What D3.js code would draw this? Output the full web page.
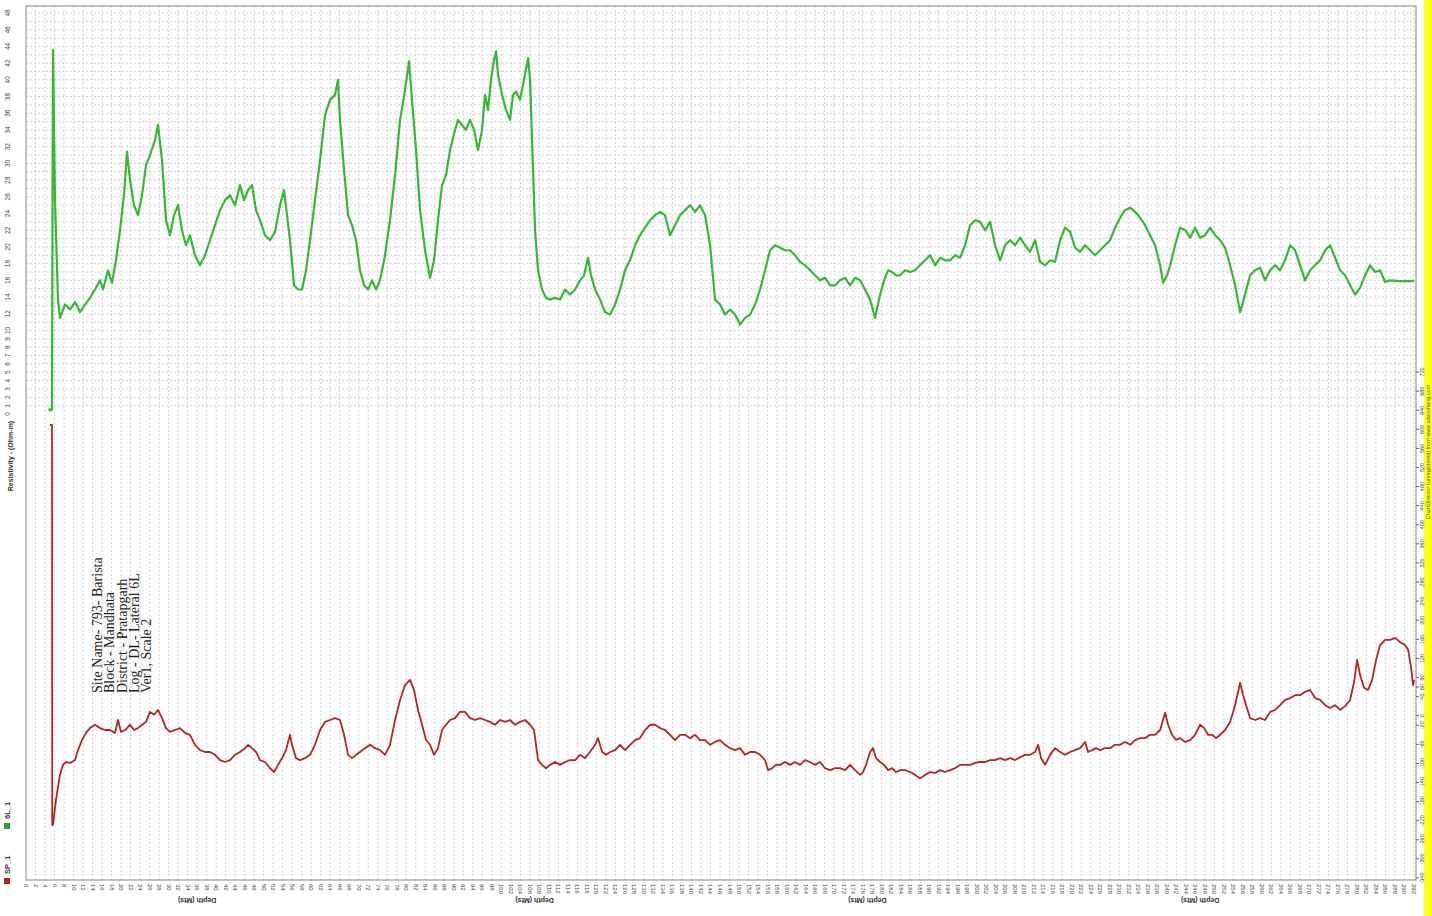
<!DOCTYPE html>
<html><head><meta charset="utf-8">
<script src="https://cdn.jsdelivr.net/npm/d3@7"></script>
<style>body{margin:0;background:#fff;} svg{display:block;}</style>
</head><body>
<svg id="c" width="1432" height="916"></svg>
<script>
// ---- data ----
const resTicks = [0,1,2,3,4,5,6,7,8,9,10,12,14,16,18,20,22,24,26,28,30,32,34,36,38,40,42,44,46,48];
const spTicks = [720,680,640,600,560,520,480,440,400,360,320,280,240,200,160,120,80,60,40,0,-20,-60,-100,-140,-180,-220,-260,-300,-340];
const depthTickStep = 2;
const depthMax = 292;

const greenDepth = [5.05,5.47,5.68,6.1,6.73,7.15,8.21,9.26,10.31,11.36,12.41,13.47,14.52,15.57,16.2,17.25,18.09,18.94,19.78,20.62,21.25,21.88,22.72,23.56,24.41,25.25,26.09,27.14,27.77,28.61,29.46,30.3,31.14,31.98,32.82,33.66,34.5,35.56,36.61,37.66,38.71,39.76,40.82,41.87,42.92,43.97,45.02,45.87,46.71,47.55,48.39,49.23,50.28,51.34,52.39,53.44,54.28,54.91,55.54,56.39,57.23,58.07,58.91,59.75,60.8,61.86,62.91,63.96,65.01,65.64,66.06,66.91,67.75,68.59,69.43,70.27,71.11,71.95,72.8,73.64,74.48,75.53,76.58,77.64,78.69,79.74,80.58,81.21,82.05,82.9,83.95,85.0,85.84,86.68,87.52,88.37,89.21,90.26,90.89,91.73,92.57,93.41,94.26,95.1,95.94,96.57,97.2,97.83,98.46,98.89,99.31,100.15,100.99,101.83,102.46,103.09,103.93,104.78,105.62,106.04,106.46,107.09,107.72,108.56,109.4,110.25,111.3,112.35,113.4,114.45,115.51,116.56,117.4,118.24,118.87,119.71,120.77,121.82,122.87,123.92,124.97,126.03,127.08,128.13,129.18,130.23,131.29,132.34,133.39,134.44,135.49,136.55,137.6,138.65,139.7,140.75,141.81,142.86,143.91,144.96,146.01,147.07,148.12,149.17,150.22,151.27,152.33,153.38,154.43,155.48,156.53,157.58,158.64,159.69,160.74,161.79,162.84,163.9,164.95,166.0,167.05,168.1,169.16,170.21,171.26,172.31,173.36,174.42,175.47,176.52,177.57,178.62,179.68,180.52,181.36,182.2,183.04,183.88,184.94,185.99,187.04,188.09,189.14,190.2,191.25,192.3,193.35,194.4,195.46,196.51,197.56,198.61,199.66,200.72,201.77,202.82,203.87,204.92,205.97,207.03,208.08,209.13,210.18,211.23,212.29,213.34,214.39,215.44,216.49,217.55,218.6,219.65,220.7,221.75,222.81,223.86,224.91,225.96,227.01,228.07,229.12,230.17,231.22,232.27,233.33,234.38,235.43,236.48,237.53,238.59,239.22,240.06,240.69,241.74,242.79,243.85,244.9,245.95,247.0,248.05,249.11,250.16,251.21,252.26,253.31,254.37,255.42,256.47,257.52,258.57,259.63,260.68,261.73,262.78,263.83,264.88,265.94,266.99,268.04,269.09,270.14,271.2,272.25,273.3,274.35,275.4,276.46,277.51,278.56,279.61,280.66,281.72,282.77,283.82,284.87,285.92,286.98,289.08,292.0];
const greenRes = [0.5,0.5,43.6,25.6,13.7,11.5,13.1,12.5,13.4,12.2,13.1,13.9,14.9,16.0,14.9,17.2,15.7,18.4,22.0,26.2,31.4,28.0,25.0,23.8,26.2,29.8,31.0,32.8,34.6,30.4,23.2,21.4,23.8,25.0,22.0,20.2,21.4,19.0,17.8,19.0,20.8,22.6,24.4,25.6,26.2,25.0,27.4,25.6,26.8,27.4,24.4,23.2,21.4,20.8,21.8,25.0,26.8,23.8,20.8,15.4,14.9,14.9,17.2,20.8,25.6,30.4,35.8,37.6,38.2,40.0,35.2,29.2,23.8,22.6,20.8,17.2,15.4,14.9,16.0,14.9,16.0,19.0,23.2,28.6,35.2,38.8,42.2,37.6,31.6,24.4,19.6,16.3,18.4,23.2,27.4,28.6,31.6,34.0,35.2,34.6,34.0,35.2,34.0,31.6,34.0,38.2,36.4,40.0,42.4,43.4,40.6,38.2,36.4,35.2,38.2,38.6,37.6,40.0,42.6,40.0,32.8,22.0,17.2,14.9,13.9,13.7,13.9,13.7,14.9,14.3,14.9,16.0,16.6,18.7,16.6,14.9,13.7,12.2,11.9,13.1,14.9,17.2,18.4,20.2,21.4,22.3,23.2,23.8,24.2,23.8,21.4,22.6,23.8,24.4,25.0,24.2,25.0,23.8,20.2,13.7,13.1,11.9,12.5,11.9,10.7,11.5,11.9,13.1,14.9,17.2,19.6,20.2,19.9,19.6,19.6,19.0,18.2,17.8,17.2,16.6,16.0,16.3,15.4,15.4,16.0,16.3,15.4,16.3,16.0,14.9,13.7,11.5,14.3,16.0,17.2,17.0,16.6,16.6,17.2,17.0,17.2,17.8,18.4,19.0,17.8,18.7,18.4,18.4,19.0,18.7,20.2,22.6,23.2,23.0,22.0,23.0,20.2,18.4,20.2,20.8,20.2,21.1,20.2,19.4,20.8,18.2,17.8,18.4,18.2,20.8,22.3,21.8,19.9,19.4,20.2,19.6,19.0,19.6,20.2,20.8,22.3,23.5,24.4,24.7,24.2,23.5,22.6,21.4,20.2,17.8,15.7,16.6,17.8,20.2,22.3,22.0,21.1,22.3,21.1,21.4,22.3,21.4,20.8,19.9,17.8,15.4,12.2,14.3,16.6,17.2,17.5,16.0,17.2,17.8,17.2,18.4,20.2,19.6,17.8,16.0,17.2,17.8,18.4,19.6,20.2,18.7,17.2,16.6,15.4,14.3,15.1,16.6,17.8,17.0,17.2,15.8,16.0,15.9,15.9];

const redDepth = [5.05,5.47,5.52,5.68,6.31,7.15,7.78,8.42,9.26,10.31,10.94,11.78,12.62,13.47,14.52,15.57,16.62,17.67,18.72,19.36,19.99,20.83,21.88,22.72,23.56,24.41,25.25,26.09,26.93,27.77,28.61,29.46,30.3,31.35,32.4,33.45,34.5,35.56,36.61,37.66,38.71,39.76,40.82,41.87,42.92,43.97,45.02,46.08,46.71,47.55,48.39,49.23,50.28,51.34,52.18,53.02,53.86,54.7,55.54,55.96,56.81,57.65,58.7,59.75,60.8,61.86,62.91,63.96,65.01,66.06,66.91,67.75,68.59,69.43,70.27,71.32,72.38,73.43,74.48,75.53,76.58,77.64,78.69,79.74,80.79,81.63,82.47,83.32,84.16,85.0,85.84,86.68,87.52,88.37,89.21,90.26,91.31,92.36,93.41,94.47,95.52,96.57,97.62,98.67,99.73,100.78,101.83,102.88,103.93,104.99,106.04,106.88,107.72,108.56,109.4,110.25,111.3,112.35,113.4,114.45,115.51,116.56,117.61,118.66,119.71,120.35,121.19,122.03,122.87,123.92,124.97,126.03,127.08,128.13,129.18,130.23,131.29,132.34,133.39,134.44,135.49,136.55,137.6,138.65,139.7,140.75,141.81,142.86,143.91,144.96,146.01,147.07,148.12,149.17,150.22,151.27,152.33,153.38,154.43,155.48,156.11,156.95,157.79,158.64,159.69,160.74,161.79,162.84,163.9,164.95,166.0,167.05,168.1,169.16,170.21,171.26,172.31,173.36,174.42,175.47,176.1,176.73,177.57,178.2,178.83,179.68,180.52,181.36,182.2,183.04,183.88,184.94,185.99,187.04,188.09,189.14,190.2,191.25,192.3,193.35,194.4,195.46,196.51,197.56,198.61,199.66,200.72,201.77,202.82,203.87,204.92,205.97,207.03,208.08,209.13,210.18,211.23,212.29,212.92,213.55,214.39,215.44,216.49,217.55,218.6,219.65,220.7,221.75,222.81,223.44,224.28,225.12,225.96,227.01,228.07,229.12,230.17,231.22,232.27,233.33,234.38,235.43,236.48,237.53,238.59,239.64,240.27,241.11,241.95,242.79,243.85,244.9,245.95,247.0,247.85,248.69,249.53,250.37,251.21,252.26,253.31,254.37,255.42,256.05,256.68,257.52,258.57,259.63,260.68,261.73,262.78,263.83,264.88,265.94,266.99,268.04,269.09,270.14,271.2,272.25,273.3,274.35,275.4,276.46,277.51,278.56,279.4,280.03,280.66,281.51,282.35,283.19,284.03,284.87,285.92,286.98,288.03,289.08,290.13,290.76,291.39,291.81,292.0];
const redSP = [609,609,-229,-229,-176,-124,-103,-97,-99,-93,-72,-51,-36,-26,-19,-26,-30,-30,-36,-9,-34,-30,-19,-30,-26,-19,-13,8,2,12,-5,-26,-34,-30,-26,-36,-40,-61,-72,-76,-76,-82,-93,-97,-93,-82,-76,-68,-61,-68,-76,-93,-97,-110,-118,-103,-89,-72,-40,-61,-89,-93,-89,-82,-61,-30,-13,-9,-5,-9,-40,-82,-89,-82,-76,-68,-61,-68,-72,-82,-61,-9,33,64,75,54,12,-19,-51,-61,-82,-68,-30,-19,-9,-5,8,8,-5,-9,-5,-9,-13,-19,-9,-13,-9,-19,-13,-9,-19,-30,-93,-103,-110,-103,-97,-103,-97,-93,-93,-82,-89,-76,-61,-47,-76,-82,-76,-72,-61,-72,-61,-51,-47,-30,-19,-19,-26,-30,-40,-51,-40,-40,-47,-40,-51,-51,-61,-55,-51,-61,-68,-72,-68,-82,-76,-76,-82,-93,-114,-110,-103,-103,-97,-103,-97,-103,-93,-97,-103,-97,-110,-114,-110,-110,-114,-103,-114,-124,-118,-103,-76,-68,-89,-97,-103,-114,-110,-118,-114,-114,-118,-124,-131,-124,-118,-120,-114,-118,-114,-110,-103,-103,-103,-99,-97,-97,-93,-93,-89,-93,-89,-93,-87,-82,-82,-76,-61,-89,-103,-82,-68,-76,-82,-76,-72,-68,-55,-76,-72,-68,-72,-68,-68,-61,-61,-55,-61,-51,-47,-47,-40,-40,-30,6,-19,-40,-51,-47,-55,-51,-40,-19,-26,-40,-40,-47,-40,-30,-13,22,69,43,22,-5,-9,-5,-9,8,12,22,33,37,43,43,50,54,37,33,22,16,22,12,20,33,71,117,85,58,54,75,117,148,159,159,163,154,148,138,100,64,75];

const annotationLines = ["Site Name- 793- Barista","Block - Mandhata","District - Pratapgarh","Log -  DL- Lateral 6L","Ver1, Scale 2"];
const depthTitleCenters = [36, 107, 177, 247];
const legendItems = [{name:"6L_1", color:"#2e9e2e"},{name:"SP_1", color:"#b22222"}];

// ---- drawing ----
const svg = d3.select("#c");
const L=26, R=1416, T=6, B=880;
const x = d3.scaleLinear().domain([0, depthMax]).range([26, 1414]);
const yG = d3.scaleLinear().domain([0, 48]).range([414, 13]);
const yR = d3.scaleLinear().domain([-340, 720]).range([878, 372]);

svg.append("rect").attr("width",1432).attr("height",916).attr("fill","#fff");
svg.append("rect").attr("x",1424).attr("y",0).attr("width",8).attr("height",916).attr("fill","#ffff1a");
svg.append("text").attr("transform","translate(1430,452) rotate(-90)").attr("text-anchor","middle")
  .attr("font-family","Arial, Liberation Sans").attr("font-size",5.5).attr("fill","#666")
  .text("ChartDirector (unregistered) from www.advsofteng.com");

const depthTicks = d3.range(0, depthMax + 1, depthTickStep);
const grid = svg.append("g");
grid.selectAll("line.v").data(depthTicks.slice(1)).join("line")
  .attr("x1",d=>x(d)).attr("x2",d=>x(d)).attr("y1",T).attr("y2",B)
  .attr("stroke","#c9c9c9").attr("stroke-width",0.8).attr("stroke-dasharray","2,2");
grid.selectAll("line.h").data(d3.range(1,49)).join("line")
  .attr("x1",L).attr("x2",R).attr("y1",d=>yG(d)).attr("y2",d=>yG(d))
  .attr("stroke","#c9c9c9").attr("stroke-width",0.8).attr("stroke-dasharray","2,2");

svg.append("rect").attr("x",L).attr("y",T).attr("width",R-L).attr("height",B-T)
  .attr("fill","none").attr("stroke","#9a9a9a").attr("stroke-width",1.2);

svg.append("g").selectAll("text").data(resTicks).join("text")
  .attr("transform",d=>`translate(10,${yG(d)}) rotate(-90)`).attr("text-anchor","middle")
  .attr("font-family","Arial, Liberation Sans").attr("font-size",6.5).attr("fill","#444").text(d=>d);
svg.append("text").attr("transform","translate(13,456) rotate(-90)").attr("text-anchor","middle")
  .attr("font-family","Arial, Liberation Sans").attr("font-size",7).attr("font-weight","bold").attr("fill","#333")
  .text("Resistivity - (Ohm-m)");

const lg = svg.append("g");
legendItems.forEach((it,i)=>{
  const cy = 826 + i*55;
  lg.append("rect").attr("x",4).attr("y",cy-3).attr("width",6).attr("height",6).attr("fill",it.color);
  lg.append("text").attr("transform",`translate(10,${cy-7}) rotate(-90)`).attr("text-anchor","start")
    .attr("font-family","Arial, Liberation Sans").attr("font-size",7.5).attr("font-weight","bold").attr("fill","#333").text(it.name);
});

svg.append("g").selectAll("text").data(depthTicks).join("text")
  .attr("transform",d=>`translate(${x(d)-2},884) rotate(90)`).attr("text-anchor","start")
  .attr("font-family","Arial, Liberation Sans").attr("font-size",6).attr("fill","#444").text(d=>d);
svg.append("g").selectAll("text").data(depthTitleCenters).join("text")
  .attr("transform",d=>`translate(${x(d)},898) rotate(180)`).attr("text-anchor","middle")
  .attr("font-family","Arial, Liberation Sans").attr("font-size",7).attr("font-weight","bold").attr("fill","#333")
  .text("Depth (Mts)");

const ra = svg.append("g");
ra.selectAll("line").data(spTicks).join("line")
  .attr("x1",R).attr("x2",R+3).attr("y1",d=>yR(d)).attr("y2",d=>yR(d)).attr("stroke","#666");
ra.selectAll("text").data(spTicks).join("text")
  .attr("transform",d=>`translate(${R+8},${yR(d)}) rotate(-90)`).attr("text-anchor","middle")
  .attr("font-family","Arial, Liberation Sans").attr("font-size",5.5).attr("fill","#444").text(d=>d);

const gData = greenDepth.map((d,i)=>[d, greenRes[i]]);
const rData = redDepth.map((d,i)=>[d, redSP[i]]);
svg.append("path").datum(gData).attr("fill","none").attr("stroke","#36b836").attr("stroke-width",2.2)
  .attr("stroke-linejoin","round")
  .attr("d", d3.line().x(d=>x(d[0])).y(d=>yG(d[1])));
svg.append("path").datum(rData).attr("fill","none").attr("stroke","#b52424").attr("stroke-width",1.8)
  .attr("stroke-linejoin","round")
  .attr("d", d3.line().x(d=>x(d[0])).y(d=>yR(d[1])));
svg.append("rect").attr("x",x(greenDepth[0])-1.5).attr("y",yG(greenRes[0])-1.5).attr("width",3).attr("height",3).attr("fill","#36b836");

const an = svg.append("g");
annotationLines.forEach((t,i)=>{
  an.append("text").attr("transform",`translate(${102+i*12.3},693) rotate(-90)`).attr("text-anchor","start")
    .attr("font-family","Liberation Serif, DejaVu Serif, serif").attr("font-size",14).attr("fill","#222").text(t);
});
</script>
</body></html>
